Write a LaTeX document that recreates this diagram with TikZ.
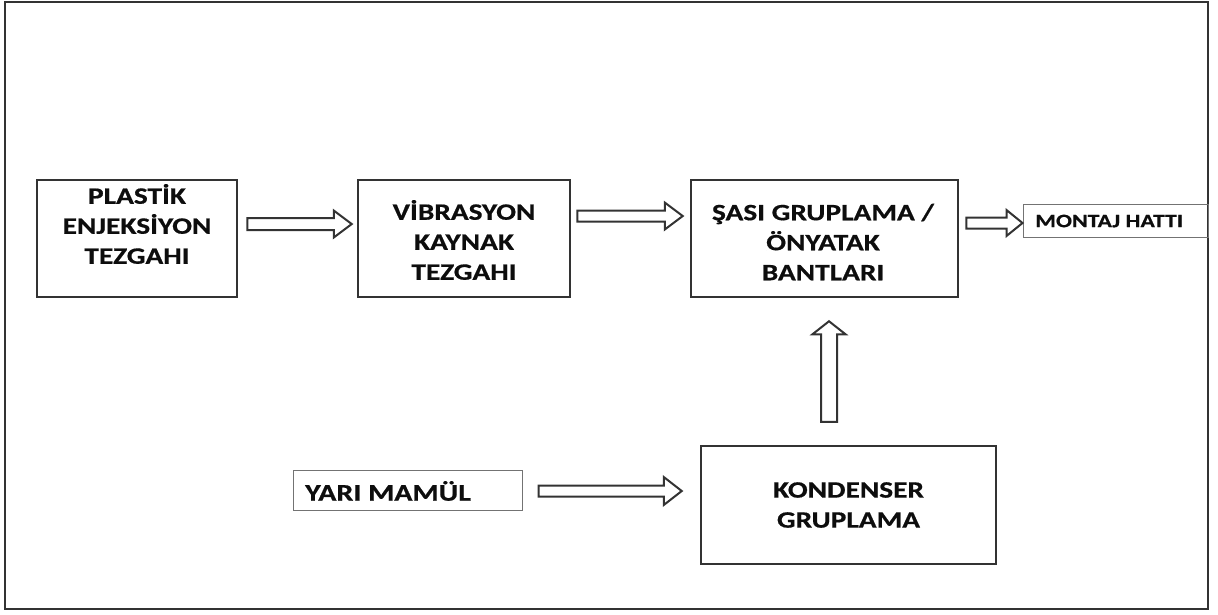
\documentclass[tikz,border=0pt]{standalone}
\usepackage{fontspec}
\setmainfont{Carlito}[FakeStretch=1.25, FakeBold=0.6]
\usetikzlibrary{calc}

\tikzset{
	box/.style={draw=black!80, line width=2.5pt},
	thinbox/.style={draw=black!55, line width=1pt},
	lbl/.style={align=center, text=black!95, font=\bfseries\fontsize{23.5}{30}\selectfont},
	hollow/.style n args={3}{draw=black!80, line width=2pt, line join=miter,
		to path={let \p1=(\tikztostart), \p2=(\tikztotarget), \p3=($(\p2)!#3pt!(\p1)$) in
			($(\p1)!#1pt!90:(\p2)$) -- ($(\p3)!#1pt!90:(\p2)$) -- ($(\p3)!#2pt!90:(\p2)$) -- (\p2)
			-- ($(\p3)!#2pt!-90:(\p2)$) -- ($(\p3)!#1pt!-90:(\p2)$) -- ($(\p1)!#1pt!-90:(\p2)$) -- cycle}}
}

\begin{document}
\begin{tikzpicture}[x=1pt, y=-1pt]
\useasboundingbox (0,0) rectangle (1218,614);
\draw[black!80, line width=2pt] (5,2) rectangle (1208,609);

\node[box, minimum width=200, minimum height=117] (plastik) at (137,238.5) {};
\node[box, minimum width=212, minimum height=117] (vibrasyon) at (464,238.5) {};
\node[box, minimum width=267, minimum height=117] (sasi) at (824.5,238.5) {};
\node[thinbox, minimum width=185, minimum height=33] (montaj) at (1115.5,220.5) {};
\node[thinbox, minimum width=229, minimum height=40] (yari) at (407.5,490) {};
\node[box, minimum width=295, minimum height=118] (kondenser) at (848.5,505) {};

\node[lbl] (plastikT) at (137,224) {PLASTİK\\ENJEKSİYON\\TEZGAHI};
\node[lbl] (vibrasyonT) at (464,240) {VİBRASYON\\KAYNAK\\TEZGAHI};
\node[lbl] (sasiT) at (823,242) {ŞASI GRUPLAMA /\\ÖNYATAK\\BANTLARI};
\node[lbl] (kondenserT) at (848.5,505) {KONDENSER\\GRUPLAMA};
\node[lbl, font=\bfseries\fontsize{19}{24}\selectfont, anchor=west, inner sep=0pt] (montajT) at (1035,221) {MONTAJ HATTI};
\node[lbl, font=\bfseries\fontsize{24}{28}\selectfont, anchor=west, inner sep=0pt] (yariT) at (305,491) {YARI MAMÜL};

\path
([shift={(9,-14.5)}]plastik.east) edge[hollow={6}{13.5}{18}] ([shift={(-5,-14.5)}]vibrasyon.west)
([shift={(6,-22.5)}]vibrasyon.east) edge[hollow={5.5}{13.5}{18}] ([shift={(-7,-22.5)}]sasi.west)
([shift={(7,-15.5)}]sasi.east) edge[hollow={5.5}{13}{16}] ([shift={(0,2.5)}]montaj.west)
([shift={(16,1)}]yari.east) edge[hollow={5.5}{14}{18}] ([shift={(-18,-14)}]kondenser.west)
([shift={(-19.5,-23)}]kondenser.north) edge[hollow={8}{16.5}{13}] ([shift={(4.5,23)}]sasi.south)
;
\end{tikzpicture}
\end{document}
